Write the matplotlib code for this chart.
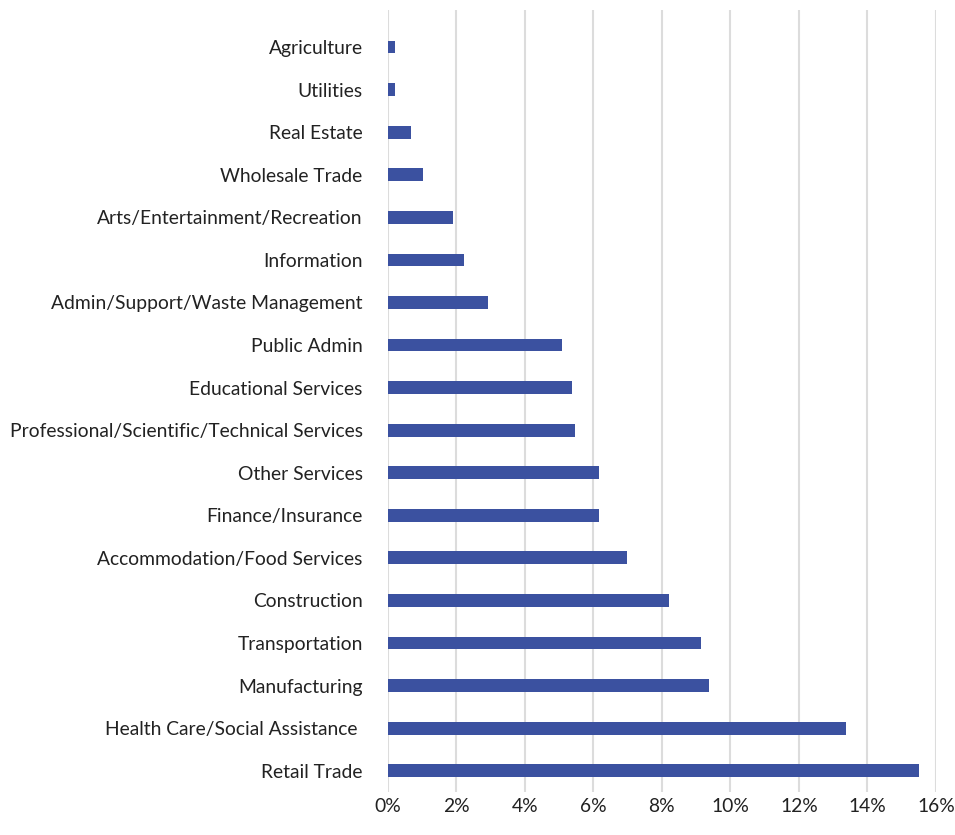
import matplotlib.pyplot as plt
import numpy as np

# Industries, top to bottom as shown in the chart
industries = [
    "Agriculture", "Utilities", "Real Estate", "Wholesale Trade",
    "Arts/Entertainment/Recreation", "Information",
    "Admin/Support/Waste Management", "Public Admin", "Educational Services",
    "Professional/Scientific/Technical Services", "Other Services",
    "Finance/Insurance", "Accommodation/Food Services", "Construction",
    "Transportation", "Manufacturing", "Health Care/Social Assistance ",
    "Retail Trade",
]
# Share of total (%)
shares = [0.22, 0.22, 0.69, 1.02, 1.91, 2.22, 2.92, 5.09, 5.39, 5.47,
          6.18, 6.18, 6.98, 8.22, 9.13, 9.37, 13.38, 15.5]
x_ticks = [0, 2, 4, 6, 8, 10, 12, 14, 16]

plt.rcParams['font.family'] = ['Lato', 'DejaVu Sans']

fig = plt.figure(figsize=(9.55, 8.35), dpi=100)
ax = fig.add_axes([0.406, 0.0515, 0.574, 0.9365])

# Bottom-most bar is the last industry
y_pos = np.arange(len(industries))[::-1]
ax.barh(y_pos, shares, height=0.3, color='#3b51a0', zorder=3)

ax.set_xlim(0, 16)
ax.set_ylim(-0.5, len(industries) - 1 + 0.87)
ax.set_xticks(x_ticks)
ax.set_xticklabels([f"{t}%" for t in x_ticks])
ax.set_yticks(y_pos)
ax.set_yticklabels(industries)

ax.grid(axis='x', color='#dcdcdc', linewidth=1.5, zorder=0)
for s in ax.spines.values():
    s.set_visible(False)
ax.tick_params(axis='both', length=0, labelsize=13.9, colors='#222222')
ax.tick_params(axis='y', pad=18)
ax.tick_params(axis='x', pad=4)

fig.savefig('out.png', dpi=100, facecolor='white')
